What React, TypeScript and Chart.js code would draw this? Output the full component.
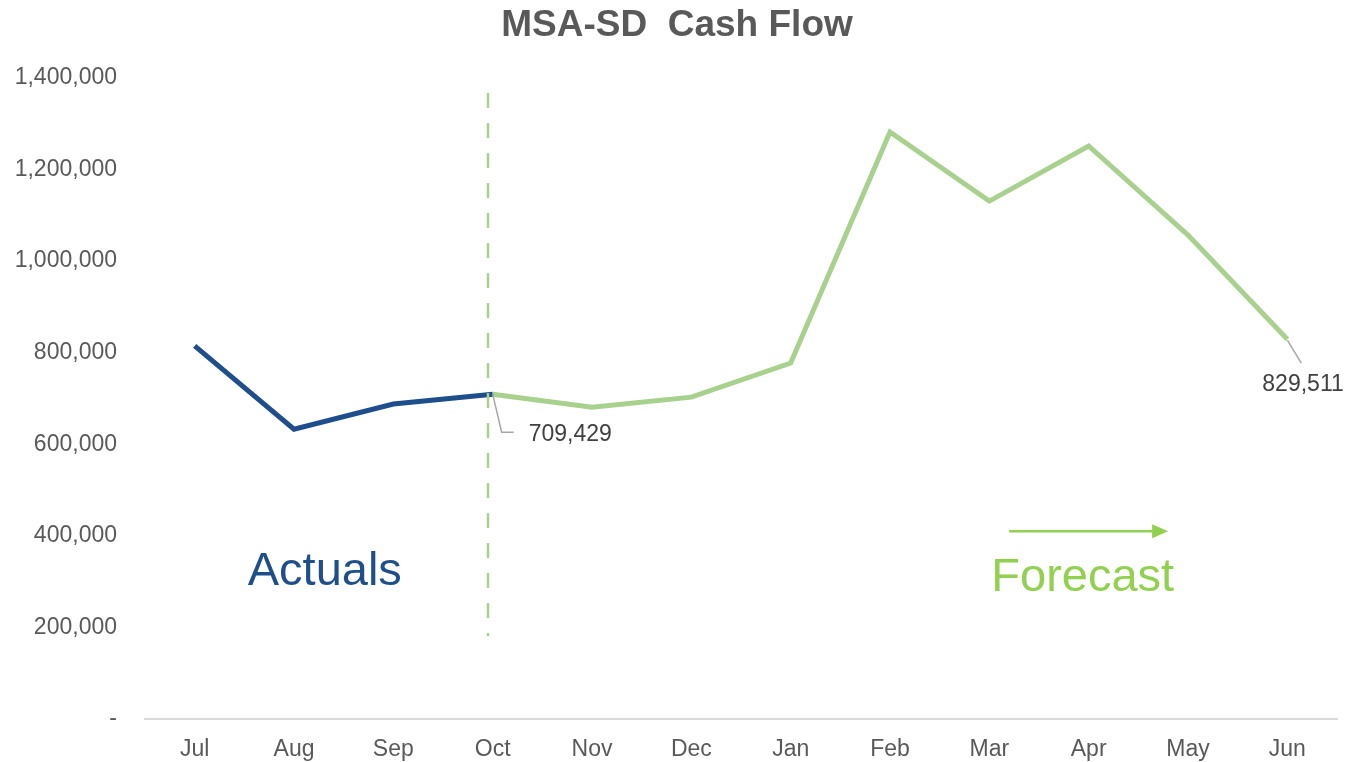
import React, { useEffect, useRef } from "react";
import { Chart, registerables } from "chart.js";

Chart.register(...registerables);

const TITLE = "MSA-SD  Cash Flow";
const months = ["Jul", "Aug", "Sep", "Oct", "Nov", "Dec", "Jan", "Feb", "Mar", "Apr", "May", "Jun"];
const actuals: (number | null)[] = [815000, 633000, 688000, 709429, null, null, null, null, null, null, null, null];
const forecast: (number | null)[] = [null, null, null, 709429, 681000, 703000, 777500, 1282000, 1131000, 1251500, 1057000, 829511];
const yTicks = [0, 200000, 400000, 600000, 800000, 1000000, 1200000, 1400000];
const labelledIndices = [3, 11];
const dividerIndex = 3;
const dividerRange = [181000, 1367000];

const BLUE = "#1F4E8C";
const GREEN_LINE = "#A9D18E";
const GREEN_TEXT = "#92D050";
const GREY = "#595959";
const FONT = "'Liberation Sans', Arial, sans-serif";

const fmt = (v: number) => (v === 0 ? "-" : v.toLocaleString("en-US"));

const overlay = {
  id: "overlay",
  afterDatasetsDraw(chart: any) {
    const ctx = chart.ctx;
    const xs = chart.scales.x;
    const ys = chart.scales.y;
    ctx.save();

    // Divider dashed line
    const dx = Math.round(xs.getPixelForValue(dividerIndex) - 5);
    ctx.strokeStyle = GREEN_LINE;
    ctx.lineWidth = 2.5;
    ctx.setLineDash([15, 15]);
    ctx.beginPath();
    ctx.moveTo(dx, ys.getPixelForValue(dividerRange[1]));
    ctx.lineTo(dx, ys.getPixelForValue(dividerRange[0]));
    ctx.stroke();
    ctx.setLineDash([]);

    // Data labels with leader lines
    ctx.font = `23px ${FONT}`;
    ctx.fillStyle = "#404040";
    ctx.textBaseline = "middle";
    labelledIndices.forEach((i, k) => {
      const v = forecast[i] as number;
      const px = xs.getPixelForValue(i);
      const py = ys.getPixelForValue(v);
      ctx.strokeStyle = "#A6A6A6";
      ctx.lineWidth = 1.5;
      ctx.beginPath();
      if (k === 0) {
        ctx.moveTo(px, py);
        ctx.lineTo(px + 9, py + 38);
        ctx.lineTo(px + 21, py + 38);
        ctx.stroke();
        ctx.textAlign = "left";
        ctx.fillText(fmt(v), px + 36, py + 40);
      } else {
        ctx.moveTo(px, py + 1);
        ctx.lineTo(px + 14, py + 24);
        ctx.stroke();
        ctx.textAlign = "left";
        ctx.fillText(fmt(v), px - 25, py + 45);
      }
    });

    // Actuals / Forecast text
    ctx.font = `47px ${FONT}`;
    ctx.textAlign = "center";
    ctx.textBaseline = "middle";
    ctx.fillStyle = BLUE;
    ctx.fillText("Actuals", xs.getPixelForValue(1.31), ys.getPixelForValue(320000));
    ctx.fillStyle = GREEN_TEXT;
    ctx.fillText("Forecast", xs.getPixelForValue(8.94), ys.getPixelForValue(308000));

    // Arrow
    const ay = ys.getPixelForValue(410000);
    const ax1 = xs.getPixelForValue(8.2);
    const ax2 = xs.getPixelForValue(9.8);
    ctx.strokeStyle = GREEN_TEXT;
    ctx.lineWidth = 2.5;
    ctx.beginPath();
    ctx.moveTo(ax1, ay);
    ctx.lineTo(ax2 - 14, ay);
    ctx.stroke();
    ctx.fillStyle = GREEN_TEXT;
    ctx.beginPath();
    ctx.moveTo(ax2, ay);
    ctx.lineTo(ax2 - 16, ay - 7);
    ctx.lineTo(ax2 - 16, ay + 7);
    ctx.closePath();
    ctx.fill();

    // Title
    ctx.font = `bold 37px ${FONT}`;
    ctx.fillStyle = GREY;
    ctx.textAlign = "center";
    ctx.textBaseline = "middle";
    ctx.fillText(TITLE, 677, 26);

    ctx.restore();
  },
};

export default function App() {
  const ref = useRef<HTMLCanvasElement>(null);
  useEffect(() => {
    document.body.style.margin = "0";
    const chart = new Chart(ref.current as HTMLCanvasElement, {
      type: "line",
      data: {
        labels: months,
        datasets: [
          {
            label: "Actuals",
            data: actuals,
            borderColor: BLUE,
            borderWidth: 5,
            pointRadius: 0,
            tension: 0,
            spanGaps: false,
          },
          {
            label: "Forecast",
            data: forecast,
            borderColor: GREEN_LINE,
            borderWidth: 5,
            pointRadius: 0,
            tension: 0,
            spanGaps: false,
          },
        ],
      },
      options: {
        animation: false,
        responsive: false,
        maintainAspectRatio: false,
        layout: { padding: { top: 78, right: 8, left: 0, bottom: 0 } },
        plugins: {
          legend: { display: false },
          title: { display: false },
          tooltip: { enabled: false },
        },
        scales: {
          x: {
            offset: true,
            grid: { display: false, drawTicks: false },
            border: { display: true, color: "#D9D9D9", width: 2 },
            ticks: { color: GREY, font: { size: 23, family: FONT }, padding: 17, maxRotation: 0 },
            afterFit: (s: any) => {
              s.height = 43;
            },
          },
          y: {
            min: 0,
            max: 1400000,
            afterBuildTicks: (s: any) => {
              s.ticks = yTicks.map((v) => ({ value: v }));
            },
            grid: { display: false, drawTicks: false },
            border: { display: false },
            ticks: {
              color: GREY,
              font: { size: 23, family: FONT },
              padding: 28,
              callback: (v: any) => fmt(Number(v)),
            },
            afterFit: (s: any) => {
              s.width = 145;
            },
          },
        },
      },
      plugins: [overlay],
    });
    return () => chart.destroy();
  }, []);
  return (
    <div style={{ position: "absolute", left: 0, top: 0, width: 1345, height: 762 }}>
      <canvas ref={ref} width={1345} height={762} style={{ width: 1345, height: 762 }} />
    </div>
  );
}
